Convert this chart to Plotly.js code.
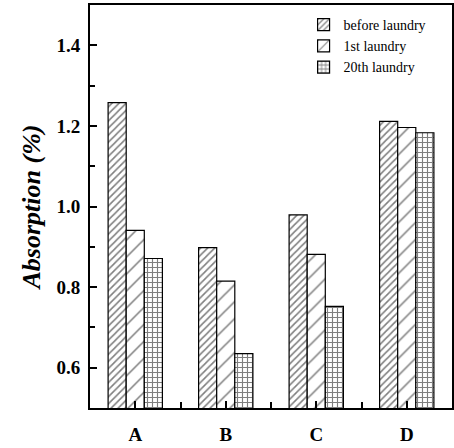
<!DOCTYPE html>
<html>
<head>
<meta charset="utf-8">
<script src="https://cdn.plot.ly/plotly-3.0.1.min.js"></script>
<style>html,body{margin:0;padding:0;background:#fff;}#chart{width:454px;height:448px;}</style>
</head>
<body>
<div id="chart"></div>
<script>
const categories = ["A", "B", "C", "D"];
const seriesNames = ["before laundry", "1st laundry", "20th laundry"];
const beforeLaundry = [1.258, 0.898, 0.979, 1.211];
const firstLaundry = [0.941, 0.815, 0.881, 1.196];
const twentiethLaundry = [0.871, 0.635, 0.752, 1.183];
const yTickVals = [0.6, 0.8, 1.0, 1.2, 1.4];
const yTickText = ["0.6", "0.8", "1.0", "1.2", "1.4"];

const xPos = categories.map((c, i) => i);
const patterns = [
  {shape: "/", size: 5, solidity: 0.32},
  {shape: "/", size: 12, solidity: 0.13},
  {shape: "+", size: 5, solidity: 0.4}
];
const seriesValues = [beforeLaundry, firstLaundry, twentiethLaundry];

const traces = seriesValues.map((vals, k) => ({
  type: "bar",
  name: seriesNames[k],
  x: xPos,
  y: vals,
  marker: {
    color: "#ffffff",
    line: {color: "#000000", width: 1.2},
    pattern: Object.assign({fgcolor: "#000000", bgcolor: "#ffffff", fillmode: "overlay"}, patterns[k])
  },
  hoverinfo: "skip"
}));

const serif = "Liberation Serif, Times New Roman, serif";

const layout = {
  width: 454, height: 448,
  margin: {l: 90, r: 2, t: 5, b: 40},
  paper_bgcolor: "#ffffff",
  plot_bgcolor: "#ffffff",
  barmode: "group",
  bargap: 0.4,
  bargroupgap: 0,
  showlegend: true,
  legend: {
    x: 0.59, y: 0.99, xanchor: "left", yanchor: "top",
    bgcolor: "rgba(0,0,0,0)",
    font: {family: serif, size: 14, color: "#000"},
    tracegroupgap: 0,
    itemwidth: 30
  },
  font: {family: serif, color: "#000"},
  xaxis: {
    range: [-0.5, 3.5],
    tickmode: "array",
    tickvals: xPos,
    ticktext: categories,
    ticks: "inside",
    ticklen: 7,
    tickwidth: 2,
    tickcolor: "#000",
    minor: {dtick: 0.5, tick0: 0, ticks: "inside", ticklen: 6, tickwidth: 2, tickcolor: "#000"},
    showline: true, linewidth: 2, linecolor: "#000", mirror: true,
    showgrid: false, zeroline: false,
    tickfont: {family: serif, size: 19, color: "#000", weight: "bold"},
    ticklabelstandoff: 8
  },
  yaxis: {
    range: [0.5, 1.5],
    tickmode: "array",
    tickvals: yTickVals,
    ticktext: yTickText,
    ticks: "inside",
    ticklen: 7,
    tickwidth: 2,
    tickcolor: "#000",
    minor: {dtick: 0.1, tick0: 0.5, ticks: "inside", ticklen: 5, tickwidth: 2, tickcolor: "#000"},
    showline: true, linewidth: 2, linecolor: "#000", mirror: true,
    showgrid: false, zeroline: false,
    tickfont: {family: serif, size: 19, color: "#000", weight: "bold"},
    ticklabelstandoff: 4,
    title: {text: "<b><i>Absorption (%)</i></b>", font: {family: serif, size: 26, color: "#000"}, standoff: 8}
  }
};

Plotly.newPlot("chart", traces, layout, {displayModeBar: false, staticPlot: true});
</script>
</body>
</html>
